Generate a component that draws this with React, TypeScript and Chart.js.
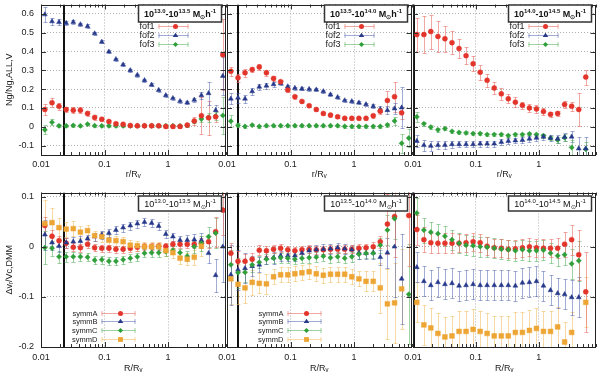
import React, { useEffect, useRef } from 'react';
import { Chart, registerables } from 'chart.js';
Chart.register(...registerables);
Chart.defaults.font.family = "'Liberation Sans', Arial, sans-serif";

// radial bins (r/Rv), shared by all panels
const R_BINS = [0.0115, 0.0149, 0.0192, 0.0249, 0.0322, 0.0417, 0.054, 0.0698, 0.0904, 0.117, 0.151, 0.196, 0.254, 0.328, 0.425, 0.55, 0.711, 0.92, 1.19, 1.54, 2.0, 2.58, 3.34, 4.33, 5.6, 7.25];
const X_TICKS = [0.01, 0.1, 1];
const TOP_Y_TICKS = [-0.1, 0, 0.1, 0.2, 0.3, 0.4, 0.5, 0.6];
const BOT_Y_TICKS = [-0.2, -0.1, 0, 0.1];
const MASS_BINS: [string, string][] = [['13.0', '13.5'], ['13.5', '14.0'], ['14.0', '14.5']];
const FOF_LABELS = ['fof1', 'fof2', 'fof3'];
const SYMM_LABELS = ['symmA', 'symmB', 'symmC', 'symmD'];
const RMIN_LINES = [0.023, 0.015, 0.0102];

// ---- top row: fof fractions ----
const T1_FOF1 = [0.092, 0.128, 0.109, 0.092, 0.088, 0.088, 0.071, 0.05, 0.04, 0.028, 0.016, 0.013, 0.007, 0.005, 0.005, 0.005, 0.005, 0.002, 0.002, 0.002, 0.009, 0.031, 0.059, 0.048, 0.053, 0.383];
const T1_FOF1_ERR = [0.03, 0.025, 0.02, 0.015, 0.015, 0.015, 0.012, 0.012, 0.01, 0.01, 0.008, 0.008, 0.006, 0.006, 0.006, 0.006, 0.006, 0.006, 0.006, 0.008, 0.01, 0.02, 0.1, 0.09, 0.03, 0.19];
const T1_FOF2 = [0.597, 0.56, 0.556, 0.551, 0.557, 0.544, 0.534, 0.496, 0.451, 0.399, 0.359, 0.33, 0.3, 0.275, 0.247, 0.223, 0.195, 0.167, 0.152, 0.136, 0.128, 0.143, 0.167, 0.178, 0.088, 0.27];
const T1_FOF2_ERR = [0.04, 0.02, 0.015, 0.012, 0.012, 0.01, 0.01, 0.008, 0.008, 0.008, 0.008, 0.008, 0.008, 0.008, 0.008, 0.008, 0.008, 0.008, 0.008, 0.008, 0.008, 0.01, 0.02, 0.06, 0.03, 0.1];
const T1_FOF3 = [-0.016, 0.024, 0.005, 0.005, 0.007, 0.005, 0.014, 0.006, 0.005, 0.005, 0.005, 0.005, 0.005, 0.005, 0.005, 0.005, 0.005, 0.005, 0.005, 0.005, 0.007, 0.028, 0.041, 0.05, 0.057, 0.06];
const T1_FOF3_ERR = [0.025, 0.015, 0.008, 0.006, 0.006, 0.006, 0.006, 0.005, 0.005, 0.005, 0.005, 0.005, 0.005, 0.005, 0.005, 0.005, 0.005, 0.005, 0.005, 0.005, 0.006, 0.01, 0.017, 0.024, 0.02, 0.1];

const T2_FOF1 = [0.295, 0.26, 0.287, 0.304, 0.318, 0.287, 0.257, 0.24, 0.195, 0.16, 0.135, 0.112, 0.092, 0.071, 0.062, 0.053, 0.045, 0.045, 0.045, 0.045, 0.059, 0.083, 0.14, 0.16, 0.074, null];
const T2_FOF1_ERR = [0.025, 0.02, 0.02, 0.015, 0.015, 0.015, 0.012, 0.01, 0.01, 0.01, 0.008, 0.008, 0.008, 0.008, 0.008, 0.008, 0.008, 0.008, 0.008, 0.008, 0.01, 0.015, 0.05, 0.08, 0.03, null];
const T2_FOF2 = [0.149, 0.154, 0.149, 0.188, 0.212, 0.218, 0.226, 0.231, 0.214, 0.206, 0.202, 0.2, 0.197, 0.188, 0.171, 0.157, 0.14, 0.135, 0.128, 0.119, 0.109, 0.093, 0.088, 0.097, 0.102, null];
const T2_FOF2_ERR = [0.03, 0.025, 0.02, 0.02, 0.015, 0.015, 0.012, 0.01, 0.01, 0.008, 0.008, 0.008, 0.008, 0.008, 0.008, 0.008, 0.008, 0.008, 0.008, 0.008, 0.01, 0.015, 0.02, 0.03, 0.11, null];
const T2_FOF3 = [0.03, 0.008, 0.002, 0.009, 0.002, 0.006, 0.006, 0.006, 0.006, 0.006, 0.006, 0.006, 0.006, 0.006, 0.006, 0.006, 0.002, 0.002, 0.002, 0.002, 0.002, 0.002, 0.01, 0.031, -0.088, -0.06];
const T2_FOF3_ERR = [0.03, 0.01, 0.006, 0.006, 0.006, 0.006, 0.006, 0.006, 0.006, 0.006, 0.006, 0.006, 0.006, 0.006, 0.006, 0.006, 0.006, 0.006, 0.006, 0.006, 0.006, 0.006, 0.01, 0.02, 0.05, 0.05];

const T3_FOF1 = [0.49, 0.49, 0.506, 0.48, 0.468, 0.447, 0.416, 0.378, 0.335, 0.29, 0.247, 0.206, 0.175, 0.149, 0.131, 0.114, 0.1, 0.095, 0.081, 0.066, 0.071, 0.119, 0.109, 0.092, 0.264, null];
const T3_FOF1_ERR = [0.09, 0.1, 0.09, 0.08, 0.07, 0.06, 0.05, 0.045, 0.04, 0.04, 0.035, 0.03, 0.03, 0.025, 0.025, 0.02, 0.02, 0.02, 0.02, 0.015, 0.015, 0.02, 0.025, 0.09, 0.04, null];
const T3_FOF2 = [-0.076, -0.098, -0.102, -0.098, -0.097, -0.093, -0.093, -0.093, -0.093, -0.09, -0.09, -0.09, -0.081, -0.076, -0.073, -0.071, -0.064, -0.059, -0.053, -0.06, -0.064, -0.055, -0.053, -0.116, -0.116, null];
const T3_FOF2_ERR = [0.03, 0.03, 0.025, 0.02, 0.02, 0.02, 0.015, 0.015, 0.015, 0.015, 0.015, 0.015, 0.015, 0.015, 0.015, 0.015, 0.015, 0.015, 0.015, 0.015, 0.02, 0.02, 0.03, 0.06, 0.06, null];
const T3_FOF3 = [0.053, 0.016, -0.002, -0.016, -0.01, -0.024, -0.03, -0.033, -0.036, -0.036, -0.041, -0.041, -0.041, -0.047, -0.041, -0.041, -0.038, -0.041, -0.047, -0.06, -0.07, -0.058, -0.11, null, -0.119, null];
const T3_FOF3_ERR = [0.025, 0.012, 0.01, 0.01, 0.008, 0.008, 0.008, 0.008, 0.008, 0.008, 0.008, 0.008, 0.008, 0.008, 0.008, 0.008, 0.008, 0.008, 0.01, 0.01, 0.015, 0.02, 0.04, null, 0.04, null];

// ---- bottom row: symm velocity offsets ----
const B1_A = [0.042, 0.021, 0.012, 0.007, -0.001, -0.002, 0.005, -0.002, -0.003, -0.003, -0.005, -0.005, -0.003, -0.001, 0, 0, 0.001, 0.001, 0.005, 0.005, 0.005, 0.005, 0.007, 0.01, 0.03, 0.073];
const B1_A_ERR = [0.018, 0.012, 0.01, 0.01, 0.008, 0.008, 0.008, 0.007, 0.007, 0.007, 0.007, 0.007, 0.007, 0.007, 0.007, 0.007, 0.007, 0.007, 0.007, 0.007, 0.008, 0.008, 0.01, 0.012, 0.03, 0.05];
const B1_B = [0.024, 0.008, 0.001, 0.008, 0.01, 0.011, 0.016, 0.02, 0.024, 0.027, 0.033, 0.038, 0.042, 0.046, 0.049, 0.047, 0.041, 0.025, 0.02, 0.013, 0.013, 0.014, 0.013, -0.013, -0.057, 0];
const B1_B_ERR = [0.03, 0.015, 0.012, 0.01, 0.01, 0.01, 0.008, 0.008, 0.008, 0.008, 0.008, 0.008, 0.008, 0.008, 0.008, 0.008, 0.008, 0.008, 0.008, 0.008, 0.01, 0.012, 0.015, 0.02, 0.033, 0.07];
const B1_C = [-0.002, -0.003, -0.02, -0.02, -0.02, -0.02, -0.021, -0.027, -0.026, -0.029, -0.029, -0.026, -0.023, -0.02, -0.013, -0.012, -0.012, -0.01, -0.007, -0.012, -0.019, 0, 0.007, 0.02, 0.027, null];
const B1_C_ERR = [0.033, 0.015, 0.012, 0.01, 0.01, 0.008, 0.008, 0.008, 0.008, 0.008, 0.008, 0.008, 0.008, 0.008, 0.008, 0.008, 0.008, 0.008, 0.008, 0.008, 0.01, 0.012, 0.015, 0.02, 0.03, null];
const B1_D = [0.046, 0.048, 0.038, 0.035, 0.036, 0.029, 0.032, 0.022, 0.02, 0.013, 0.012, 0.01, 0.003, 0.002, 0, 0, 0, -0.008, -0.012, -0.023, -0.025, -0.021, 0.001, null, null, null];
const B1_D_ERR = [0.047, 0.03, 0.02, 0.015, 0.015, 0.012, 0.012, 0.01, 0.01, 0.01, 0.01, 0.01, 0.01, 0.01, 0.01, 0.01, 0.01, 0.01, 0.01, 0.012, 0.012, 0.015, 0.02, null, null, null];

const B2_A = [-0.013, -0.029, -0.029, -0.025, -0.007, -0.008, -0.005, -0.003, -0.006, -0.008, -0.006, -0.005, -0.006, -0.006, -0.005, -0.005, -0.005, -0.005, -0.003, -0.002, 0, 0.01, 0.045, 0.06, null, 0.062];
const B2_A_ERR = [0.02, 0.02, 0.015, 0.012, 0.01, 0.01, 0.008, 0.008, 0.008, 0.008, 0.008, 0.008, 0.008, 0.008, 0.008, 0.008, 0.008, 0.008, 0.008, 0.008, 0.01, 0.012, 0.06, 0.08, null, 0.1];
const B2_B = [-0.056, -0.046, -0.043, -0.039, -0.036, -0.023, -0.022, -0.018, -0.018, -0.018, -0.013, -0.008, -0.006, -0.005, -0.004, -0.002, -0.004, -0.006, -0.012, -0.013, -0.012, -0.021, -0.012, 0, -0.064, null];
const B2_B_ERR = [0.06, 0.04, 0.03, 0.02, 0.015, 0.012, 0.012, 0.01, 0.01, 0.01, 0.01, 0.01, 0.01, 0.01, 0.01, 0.01, 0.01, 0.01, 0.012, 0.012, 0.012, 0.015, 0.03, 0.1, 0.09, null];
const B2_C = [-0.036, -0.052, -0.051, -0.036, -0.031, -0.025, -0.023, -0.022, -0.023, -0.025, -0.023, -0.022, -0.021, -0.019, -0.022, -0.02, -0.023, -0.02, -0.015, -0.013, -0.013, 0.003, 0.033, 0.056, null, -0.095];
const B2_C_ERR = [0.03, 0.03, 0.02, 0.015, 0.012, 0.01, 0.01, 0.01, 0.01, 0.01, 0.01, 0.01, 0.01, 0.01, 0.01, 0.01, 0.01, 0.01, 0.01, 0.01, 0.01, 0.015, 0.03, 0.04, null, 0.1];
const B2_D = [-0.064, -0.075, -0.082, -0.071, -0.073, -0.074, -0.06, -0.056, -0.056, -0.054, -0.052, -0.05, -0.054, -0.057, -0.055, -0.055, -0.055, -0.06, -0.064, -0.069, -0.069, -0.082, -0.114, -0.112, -0.084, null];
const B2_D_ERR = [0.05, 0.04, 0.03, 0.025, 0.02, 0.02, 0.015, 0.015, 0.015, 0.015, 0.015, 0.015, 0.015, 0.015, 0.015, 0.015, 0.015, 0.015, 0.015, 0.02, 0.02, 0.05, 0.07, 0.08, 0.08, null];

const B3_A = [0.034, 0.014, 0.008, 0.007, 0.007, 0.007, 0.007, 0.008, 0.01, 0.008, 0.001, -0.002, -0.003, -0.005, -0.004, -0.002, 0, -0.002, -0.003, -0.003, -0.003, 0.005, 0.014, -0.016, -0.09, null];
const B3_A_ERR = [0.03, 0.025, 0.02, 0.02, 0.02, 0.02, 0.018, 0.018, 0.018, 0.018, 0.018, 0.018, 0.018, 0.018, 0.018, 0.018, 0.018, 0.018, 0.018, 0.018, 0.02, 0.025, 0.03, 0.05, 0.08, null];
const B3_B = [-0.041, -0.069, -0.077, -0.071, -0.075, -0.073, -0.078, -0.077, -0.075, -0.077, -0.077, -0.077, -0.077, -0.077, -0.078, -0.072, -0.071, -0.069, -0.078, -0.087, -0.093, -0.095, -0.101, -0.101, null, null];
const B3_B_ERR = [0.03, 0.03, 0.03, 0.03, 0.03, 0.03, 0.03, 0.03, 0.03, 0.03, 0.03, 0.03, 0.03, 0.03, 0.03, 0.03, 0.03, 0.03, 0.03, 0.03, 0.03, 0.03, 0.035, 0.04, null, null];
const B3_C = [0.067, 0.033, 0.029, 0.026, 0.021, 0.014, 0.007, 0.003, 0.002, 0, -0.001, -0.003, -0.005, -0.006, -0.008, -0.006, -0.008, -0.008, -0.007, -0.013, -0.018, -0.016, -0.034, -0.028, null, null];
const B3_C_ERR = [0.03, 0.025, 0.02, 0.02, 0.02, 0.02, 0.02, 0.02, 0.02, 0.02, 0.02, 0.02, 0.02, 0.02, 0.02, 0.02, 0.02, 0.02, 0.02, 0.02, 0.02, 0.02, 0.03, 0.04, null, null];
const B3_D = [-0.111, -0.156, -0.162, -0.173, -0.18, -0.178, -0.169, -0.169, -0.165, -0.169, -0.173, -0.178, -0.178, -0.178, -0.171, -0.171, -0.167, -0.163, -0.169, -0.169, -0.16, -0.19, -0.171, null, -0.111, null];
const B3_D_ERR = [0.04, 0.04, 0.04, 0.04, 0.04, 0.04, 0.04, 0.04, 0.04, 0.04, 0.04, 0.04, 0.04, 0.04, 0.04, 0.04, 0.04, 0.04, 0.04, 0.04, 0.04, 0.04, 0.04, null, 0.05, null];

const RED = { color: '#e3352b', err: 'rgba(232,110,100,0.6)', style: 'circle', radius: 2.5 };
const BLUE = { color: '#27398a', err: 'rgba(70,90,170,0.5)', style: 'triangle', radius: 2.8 };
const GREEN = { color: '#2f9f3a', err: 'rgba(80,175,90,0.55)', style: 'rectRot', radius: 2.6 };
const ORANGE = { color: '#eda534', err: 'rgba(240,185,90,0.55)', style: 'rect', radius: 3.4 };

type Sty = typeof RED;
type Series = { label: string; data: (number | null)[]; err: (number | null)[]; sty: Sty };
type Legend = { rightOff: number; len: number; y0: number; dy: number; font: number };
type PanelCfg = {
  key: string; left: number; top: number; width: number; height: number;
  padLeft: number; padRight: number; padTop: number; showY: boolean;
  yMin: number; yMax: number; yTicks: number[]; yTitle: string;
  xAxisH: number; xTitle: string; xTickPad: number; xTitlePadB: number;
  vline: number; mass: [string, string]; massBold: boolean; massTop: number; massH: number;
  legend: Legend | null; series: Series[];
};

const ser = (labels: string[], sets: [(number | null)[], (number | null)[], Sty][]): Series[] =>
  sets.map((s, i) => ({ label: labels[i], data: s[0], err: s[1], sty: s[2] }));

const TOP_SERIES = [
  ser(FOF_LABELS, [[T1_FOF1, T1_FOF1_ERR, RED], [T1_FOF2, T1_FOF2_ERR, BLUE], [T1_FOF3, T1_FOF3_ERR, GREEN]]),
  ser(FOF_LABELS, [[T2_FOF1, T2_FOF1_ERR, RED], [T2_FOF2, T2_FOF2_ERR, BLUE], [T2_FOF3, T2_FOF3_ERR, GREEN]]),
  ser(FOF_LABELS, [[T3_FOF1, T3_FOF1_ERR, RED], [T3_FOF2, T3_FOF2_ERR, BLUE], [T3_FOF3, T3_FOF3_ERR, GREEN]]),
];
const BOT_SERIES = [
  ser(SYMM_LABELS, [[B1_D, B1_D_ERR, ORANGE], [B1_C, B1_C_ERR, GREEN], [B1_B, B1_B_ERR, BLUE], [B1_A, B1_A_ERR, RED]]),
  ser(SYMM_LABELS, [[B2_D, B2_D_ERR, ORANGE], [B2_C, B2_C_ERR, GREEN], [B2_B, B2_B_ERR, BLUE], [B2_A, B2_A_ERR, RED]]),
  ser(SYMM_LABELS, [[B3_D, B3_D_ERR, ORANGE], [B3_C, B3_C_ERR, GREEN], [B3_B, B3_B_ERR, BLUE], [B3_A, B3_A_ERR, RED]]),
];
// legend order for bottom (A,B,C,D)
const BOT_LEG_STY = [RED, BLUE, GREEN, ORANGE];

const COLS = [
  { left: 0, width: 230, padLeft: 0, padRight: 3, showY: true },
  { left: 212, width: 204, padLeft: 15, padRight: 3, showY: false },
  { left: 398, width: 202, padLeft: 15, padRight: 2, showY: false },
];

const PANELS: PanelCfg[] = [
  ...COLS.map((c, i) => ({
    key: 't' + i, ...c, top: 0, height: 185, padTop: 2,
    yMin: -0.15, yMax: 0.65, yTicks: TOP_Y_TICKS, yTitle: 'Ng/Ng,ALL,V',
    xAxisH: 30, xTitle: 'r/Rᵥ', xTickPad: 4, xTitlePadB: 5,
    vline: RMIN_LINES[i], mass: MASS_BINS[i], massBold: true, massTop: 0, massH: 17,
    legend: { rightOff: 37, len: 30, y0: 21.5, dy: 8.9, font: 9 }, series: TOP_SERIES[i],
  })),
  ...COLS.map((c, i) => ({
    key: 'b' + i, ...c, top: 188, height: 187, padTop: 2,
    yMin: -0.2, yMax: 0.108, yTicks: BOT_Y_TICKS, yTitle: 'Δvᵣ/Vc,DMM',
    xAxisH: 28, xTitle: 'R/Rᵥ', xTickPad: 5, xTitlePadB: 1,
    vline: RMIN_LINES[i], mass: MASS_BINS[i], massBold: false, massTop: 3, massH: 15,
    legend: i < 2 ? { rightOff: 90, len: 34, y0: 120, dy: 8.7, font: 7.5 } : null, series: BOT_SERIES[i],
  })),
];

function marker(ctx: CanvasRenderingContext2D, style: string, x: number, y: number, r: number, color: string) {
  ctx.fillStyle = color;
  ctx.beginPath();
  if (style === 'circle') ctx.arc(x, y, r, 0, Math.PI * 2);
  else if (style === 'triangle') {
    const h = r * 1.5, s = r * Math.sqrt(3) / 2 * 1.15;
    ctx.moveTo(x, y - h * 0.66); ctx.lineTo(x + s, y + h * 0.34); ctx.lineTo(x - s, y + h * 0.34); ctx.closePath();
  } else if (style === 'rectRot') {
    ctx.moveTo(x, y - r); ctx.lineTo(x + r, y); ctx.lineTo(x, y + r); ctx.lineTo(x - r, y); ctx.closePath();
  } else {
    const s = r * Math.SQRT1_2; ctx.rect(x - s, y - s, 2 * s, 2 * s);
  }
  ctx.fill();
}

function richText(ctx: CanvasRenderingContext2D, segs: { t: string; k: number }[], cx: number, cy: number, bold: boolean) {
  const w8 = bold ? 'bold ' : '';
  const fontOf = (k: number) => `${w8}${k === 0 ? 9 : 6}px 'Liberation Sans', Arial, sans-serif`;
  let total = 0;
  segs.forEach(s => { ctx.font = fontOf(s.k); total += ctx.measureText(s.t).width; });
  let x = cx - total / 2;
  ctx.textBaseline = 'alphabetic'; ctx.textAlign = 'left'; ctx.fillStyle = '#111';
  segs.forEach(s => {
    ctx.font = fontOf(s.k);
    const dy = s.k === 1 ? -4 : s.k === 2 ? 2 : 0;
    ctx.fillText(s.t, x, cy + 3 + dy);
    x += ctx.measureText(s.t).width;
  });
}

function makeDeco(cfg: PanelCfg) {
  return {
    id: 'deco' + cfg.key,
    beforeDatasetsDraw(chart: any) {
      const { ctx, chartArea: a, scales: { x, y } } = chart;
      ctx.save();
      ctx.beginPath(); ctx.rect(a.left, a.top, a.right - a.left, a.bottom - a.top); ctx.clip();
      const vx = Math.round(x.getPixelForValue(cfg.vline));
      ctx.strokeStyle = '#111'; ctx.lineWidth = 2;
      ctx.beginPath(); ctx.moveTo(vx, a.top); ctx.lineTo(vx, a.bottom); ctx.stroke();
      ctx.lineWidth = 1;
      cfg.series.forEach(s => {
        ctx.strokeStyle = s.sty.err;
        s.data.forEach((v, i) => {
          const e = s.err[i];
          if (v == null || e == null) return;
          const px = Math.round(x.getPixelForValue(R_BINS[i])) + 0.5;
          const y1 = Math.round(y.getPixelForValue(v + e)) + 0.5;
          const y2 = Math.round(y.getPixelForValue(v - e)) + 0.5;
          ctx.beginPath();
          ctx.moveTo(px, y1); ctx.lineTo(px, y2);
          ctx.moveTo(px - 2, y1); ctx.lineTo(px + 2, y1);
          ctx.moveTo(px - 2, y2); ctx.lineTo(px + 2, y2);
          ctx.stroke();
        });
      });
      ctx.restore();
    },
    afterDatasetsDraw(chart: any) {
      const { ctx, chartArea: a, scales: { x, y } } = chart;
      ctx.save();
      // tick marks (inside)
      ctx.strokeStyle = '#333'; ctx.lineWidth = 1;
      ctx.beginPath();
      X_TICKS.forEach(d => {
        for (let k = 1; k <= 9; k++) {
          const v = d * k;
          if (v > 8) continue;
          const px = Math.round(x.getPixelForValue(v)) + 0.5;
          const len = k === 1 ? 5 : 3;
          ctx.moveTo(px, a.bottom); ctx.lineTo(px, a.bottom - len);
          ctx.moveTo(px, a.top); ctx.lineTo(px, a.top + len);
        }
      });
      cfg.yTicks.forEach(v => {
        const py = Math.round(y.getPixelForValue(v)) + 0.5;
        ctx.moveTo(a.left, py); ctx.lineTo(a.left + 5, py);
        ctx.moveTo(a.right, py); ctx.lineTo(a.right - 5, py);
      });
      ctx.stroke();
      // frame
      ctx.strokeStyle = '#222';
      ctx.strokeRect(Math.round(a.left) + 0.5, Math.round(a.top) + 0.5, Math.round(a.right - a.left) - 1, Math.round(a.bottom - a.top) - 1);
      // mass box
      const bx1 = a.right - 4, bx0 = bx1 - 83, by0 = a.top + cfg.massTop + 0.5;
      ctx.fillStyle = '#fff'; ctx.fillRect(bx0, by0, bx1 - bx0, cfg.massH);
      ctx.strokeStyle = '#333'; ctx.lineWidth = 1.5; ctx.strokeRect(bx0, by0, bx1 - bx0, cfg.massH);
      const [m0, m1] = cfg.mass;
      richText(ctx, [
        { t: '10', k: 0 }, { t: m0, k: 1 }, { t: '-10', k: 0 }, { t: m1, k: 1 },
        { t: ' M', k: 0 }, { t: '⊙', k: 2 }, { t: 'h', k: 0 }, { t: '-1', k: 1 },
      ], (bx0 + bx1) / 2, by0 + cfg.massH / 2, cfg.massBold);
      // legend
      if (cfg.legend) {
        const L = cfg.legend;
        const x1 = a.right - L.rightOff, x0 = x1 - L.len;
        const stys = cfg.series.length === 4 ? BOT_LEG_STY : cfg.series.map(s => s.sty);
        const labels = cfg.series.length === 4 ? SYMM_LABELS : cfg.series.map(s => s.label);
        stys.forEach((st, k) => {
          const ly = Math.round(a.top + L.y0 + k * L.dy) + 0.5;
          ctx.strokeStyle = st.err; ctx.lineWidth = 1;
          ctx.beginPath();
          ctx.moveTo(x0, ly); ctx.lineTo(x1, ly);
          ctx.moveTo(x0 + 0.5, ly - 2.5); ctx.lineTo(x0 + 0.5, ly + 2.5);
          ctx.moveTo(x1 - 0.5, ly - 2.5); ctx.lineTo(x1 - 0.5, ly + 2.5);
          ctx.stroke();
          marker(ctx, st.style, (x0 + x1) / 2 + 2, ly, st.radius, st.color);
          ctx.fillStyle = '#222'; ctx.font = `${L.font}px 'Liberation Sans', Arial, sans-serif`;
          ctx.textAlign = 'right'; ctx.textBaseline = 'middle';
          ctx.fillText(labels[k], x0 - 4, ly);
        });
      }
      ctx.restore();
    },
  };
}

const zeroPad = (s: any) => { s.paddingTop = 0; s.paddingBottom = 0; s.paddingLeft = 0; s.paddingRight = 0; };

function Panel({ cfg }: { cfg: PanelCfg }) {
  const ref = useRef<HTMLCanvasElement>(null);
  useEffect(() => {
    const fnt = { size: 9 };
    const chart = new Chart(ref.current as HTMLCanvasElement, {
      type: 'scatter',
      data: {
        datasets: cfg.series.map(s => ({
          label: s.label,
          data: R_BINS.map((xv, i) => (s.data[i] == null ? null : { x: xv, y: s.data[i] as number })).filter(Boolean) as any,
          pointStyle: s.sty.style as any,
          pointRadius: s.sty.radius,
          backgroundColor: s.sty.color,
          borderColor: s.sty.color,
          borderWidth: 0.5,
          showLine: false,
        })),
      },
      options: {
        responsive: false,
        animation: false,
        events: [],
        layout: { padding: { left: cfg.padLeft, right: cfg.padRight, top: cfg.padTop, bottom: 0 } },
        plugins: { legend: { display: false }, tooltip: { enabled: false } },
        scales: {
          x: {
            type: 'logarithmic', min: 0.01, max: 8,
            afterBuildTicks: (s: any) => { s.ticks = X_TICKS.map(v => ({ value: v })); },
            afterFit: (s: any) => { s.height = cfg.xAxisH; zeroPad(s); },
            border: { display: false, dash: [1, 2] },
            grid: { color: '#b0b0b0', lineWidth: 1, drawTicks: false },
            ticks: { padding: cfg.xTickPad, autoSkip: false, maxRotation: 0, color: '#222', font: fnt, callback: (v: any) => String(v) },
            title: { display: true, text: cfg.xTitle, color: '#222', font: fnt, padding: { top: 0, bottom: cfg.xTitlePadB } },
          },
          y: {
            type: 'linear', min: cfg.yMin, max: cfg.yMax,
            afterBuildTicks: (s: any) => { s.ticks = cfg.yTicks.map(v => ({ value: v })); },
            afterFit: (s: any) => { s.width = cfg.showY ? 41 : 0; zeroPad(s); },
            border: { display: false, dash: [1, 2] },
            grid: { color: '#b0b0b0', lineWidth: 1, drawTicks: false },
            ticks: { display: cfg.showY, padding: 7, color: '#222', font: fnt, callback: (v: any) => String(Math.round(v * 10) / 10) },
            title: { display: cfg.showY, text: cfg.yTitle, color: '#222', font: fnt, padding: { top: 4, bottom: 0 } },
          },
        },
      } as any,
      plugins: [makeDeco(cfg)],
    });
    return () => chart.destroy();
  }, [cfg]);
  return (
    <canvas ref={ref} width={cfg.width} height={cfg.height}
      style={{ position: 'absolute', left: cfg.left, top: cfg.top, width: cfg.width, height: cfg.height }} />
  );
}

export default function App() {
  return (
    <div style={{ position: 'absolute', left: 0, top: 0, width: 600, height: 375, background: '#fff', overflow: 'hidden' }}>
      {PANELS.map(p => <Panel key={p.key} cfg={p} />)}
    </div>
  );
}
